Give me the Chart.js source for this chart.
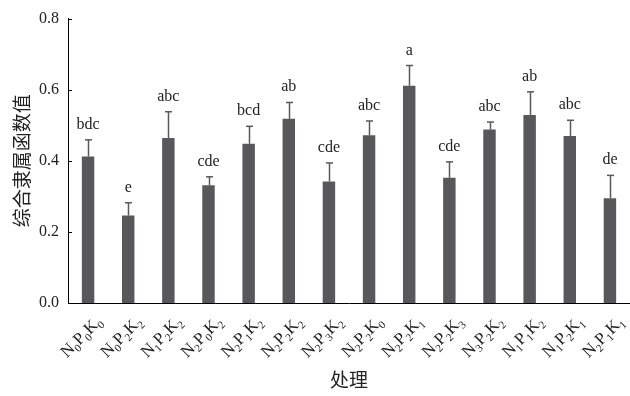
<!DOCTYPE html>
<html><head><meta charset="utf-8">
<script src="https://cdn.jsdelivr.net/npm/chart.js@4/dist/chart.umd.min.js"></script>
<style>html,body{margin:0;padding:0;background:#fff}#wrap{width:630px;height:396px}</style>
</head><body><div id="wrap"><canvas id="c"></canvas></div>
<script>
const categories = ['N0P0K0','N0P2K2','N1P2K2','N2P0K2','N2P1K2','N2P2K2','N2P3K2','N2P2K0','N2P2K1','N2P2K3','N3P2K2','N1P1K2','N1P2K1','N2P1K1'];
const values = [0.412,0.246,0.464,0.331,0.448,0.518,0.342,0.472,0.611,0.352,0.488,0.529,0.470,0.295];
const errors = [0.047,0.036,0.074,0.024,0.049,0.046,0.052,0.040,0.057,0.045,0.021,0.065,0.044,0.064];
const letters = ['bdc','e','abc','cde','bcd','ab','cde','abc','a','cde','abc','ab','abc','de'];
const yTicks = [0,0.2,0.4,0.6,0.8];
const yTitle = '综合隶属函数值';
const xTitle = '处理';

const SERIF = '"Liberation Serif","Times New Roman",serif';
const CJK = '"Noto Sans CJK SC",sans-serif';
const BAR = '#58585a';

const custom = {
  id: 'custom',
  afterDraw(chart) {
    const {ctx, chartArea: ca, scales: {x, y}} = chart;
    ctx.save();
    ctx.strokeStyle = '#000'; ctx.lineWidth = 1;
    yTicks.forEach(v => {
      const py = Math.round(y.getPixelForValue(v)) + 0.5;
      ctx.beginPath(); ctx.moveTo(ca.left, py); ctx.lineTo(ca.left + 4, py); ctx.stroke();
    });
    const meta = chart.getDatasetMeta(0);
    meta.data.forEach((bar, i) => {
      const bx = Math.round(bar.x) + 0.5;
      const top = y.getPixelForValue(values[i] + errors[i]);
      ctx.strokeStyle = BAR; ctx.lineWidth = 1.5;
      ctx.beginPath(); ctx.moveTo(bx, bar.y); ctx.lineTo(bx, top); ctx.stroke();
      ctx.beginPath(); ctx.moveTo(bx - 3.5, top); ctx.lineTo(bx + 3.5, top); ctx.stroke();
      ctx.fillStyle = '#222'; ctx.font = '16px ' + SERIF;
      ctx.textAlign = 'center'; ctx.textBaseline = 'alphabetic';
      ctx.fillText(letters[i], bar.x, top - 11);
    });
    ctx.fillStyle = '#222';
    categories.forEach((lab, i) => {
      const px = x.getPixelForValue(i);
      const parts = lab.match(/[A-Z]|\d/g);
      const bigF = '17px ' + SERIF, smallF = '11px ' + SERIF;
      let w = 0;
      parts.forEach(p => { ctx.font = /\d/.test(p) ? smallF : bigF; w += ctx.measureText(p).width; });
      ctx.save();
      ctx.translate(px + 11, 319);
      ctx.rotate(-Math.PI / 4);
      let cx = -w;
      ctx.textAlign = 'left'; ctx.textBaseline = 'alphabetic';
      parts.forEach(p => {
        const sub = /\d/.test(p);
        ctx.font = sub ? smallF : bigF;
        ctx.fillText(p, cx, sub ? 9 : 5);
        cx += ctx.measureText(p).width;
      });
      ctx.restore();
    });
    ctx.fillStyle = '#222';
    ctx.font = '19px ' + CJK; ctx.textAlign = 'center'; ctx.textBaseline = 'middle';
    ctx.fillText(xTitle, (ca.left + ca.right) / 2, 380);
    ctx.save();
    ctx.translate(22, (ca.top + ca.bottom) / 2);
    ctx.rotate(-Math.PI / 2);
    ctx.font = '19px ' + CJK;
    ctx.fillText(yTitle, 0, 0);
    ctx.restore();
    ctx.restore();
  }
};

new Chart(document.getElementById('c'), {
  type: 'bar',
  data: {
    labels: categories,
    datasets: [{ data: values, backgroundColor: BAR, borderWidth: 0, categoryPercentage: 1, barPercentage: 0.31 }]
  },
  options: {
    responsive: true, maintainAspectRatio: false, animation: false,
    layout: { padding: { top: 14, right: -3, left: 0, bottom: 0 } },
    plugins: { legend: { display: false }, tooltip: { enabled: false } },
    scales: {
      x: {
        grid: { display: false },
        border: { display: true, color: '#000', width: 1 },
        ticks: { display: false },
        afterFit(s) { s.height = 93; }
      },
      y: {
        min: 0, max: 0.8,
        grid: { display: false, drawTicks: false },
        border: { display: true, color: '#000', width: 1 },
        ticks: {
          stepSize: 0.2, padding: 9, color: '#222',
          font: { family: SERIF, size: 16 },
          callback: v => Number(v).toFixed(1)
        },
        afterFit(s) { s.width = 68; }
      }
    }
  },
  plugins: [custom]
});
</script></body></html>
